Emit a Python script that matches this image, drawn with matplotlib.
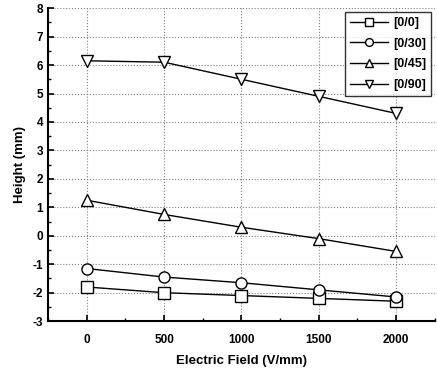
import matplotlib
matplotlib.use("Agg")
import matplotlib.pyplot as plt
from matplotlib.ticker import MultipleLocator

field = [0, 500, 1000, 1500, 2000]
h_0_0 = [-1.8, -2.0, -2.1, -2.2, -2.3]
h_0_30 = [-1.15, -1.45, -1.65, -1.9, -2.15]
h_0_45 = [1.25, 0.75, 0.3, -0.1, -0.55]
h_0_90 = [6.15, 6.1, 5.5, 4.9, 4.3]

series = [("[0/0]", h_0_0, "s"), ("[0/30]", h_0_30, "o"),
          ("[0/45]", h_0_45, "^"), ("[0/90]", h_0_90, "v")]

plt.rcParams['font.family'] = ['Liberation Sans', 'DejaVu Sans']
plt.rcParams['font.weight'] = 'bold'
plt.rcParams['axes.unicode_minus'] = False

fig = plt.figure(figsize=(4.37, 3.7), dpi=100)
ax = fig.add_axes([0.11, 0.132, 0.885, 0.846])

for name, vals, m in series:
    ax.plot(field, vals, color='black', lw=1.0, marker=m, markersize=8,
            markerfacecolor='white', markeredgecolor='black', markeredgewidth=1.0,
            label=name)

ax.set_xlim(-250, 2250)
ax.set_ylim(-3, 8)
ax.xaxis.set_major_locator(MultipleLocator(500))
ax.xaxis.set_minor_locator(MultipleLocator(250))
ax.yaxis.set_major_locator(MultipleLocator(1))
ax.yaxis.set_minor_locator(MultipleLocator(0.5))
ax.grid(True, which='major', linestyle=':', color='gray', lw=0.8)
ax.tick_params(which='both', direction='in', labelsize=8.5)
ax.tick_params(which='major', length=4, width=1.2)
ax.tick_params(which='minor', length=2, width=1)
ax.tick_params(axis='x', which='major', pad=9)
for s in ['top', 'right']:
    ax.spines[s].set_visible(False)
for s in ['left', 'bottom']:
    ax.spines[s].set_linewidth(1.5)

ax.set_xlabel('Electric Field (V/mm)', fontsize=9.5, fontweight='bold', labelpad=7)
ax.set_ylabel('Height (mm)', fontsize=9.5, fontweight='bold', labelpad=5)

leg = ax.legend(loc='upper right', fontsize=9, frameon=True, fancybox=False,
                edgecolor='black', handlelength=3, markerscale=0.7,
                borderaxespad=0.3, handletextpad=0.4, labelspacing=0.7)
leg.get_frame().set_linewidth(1.0)

fig.savefig("out.png", dpi=100)
